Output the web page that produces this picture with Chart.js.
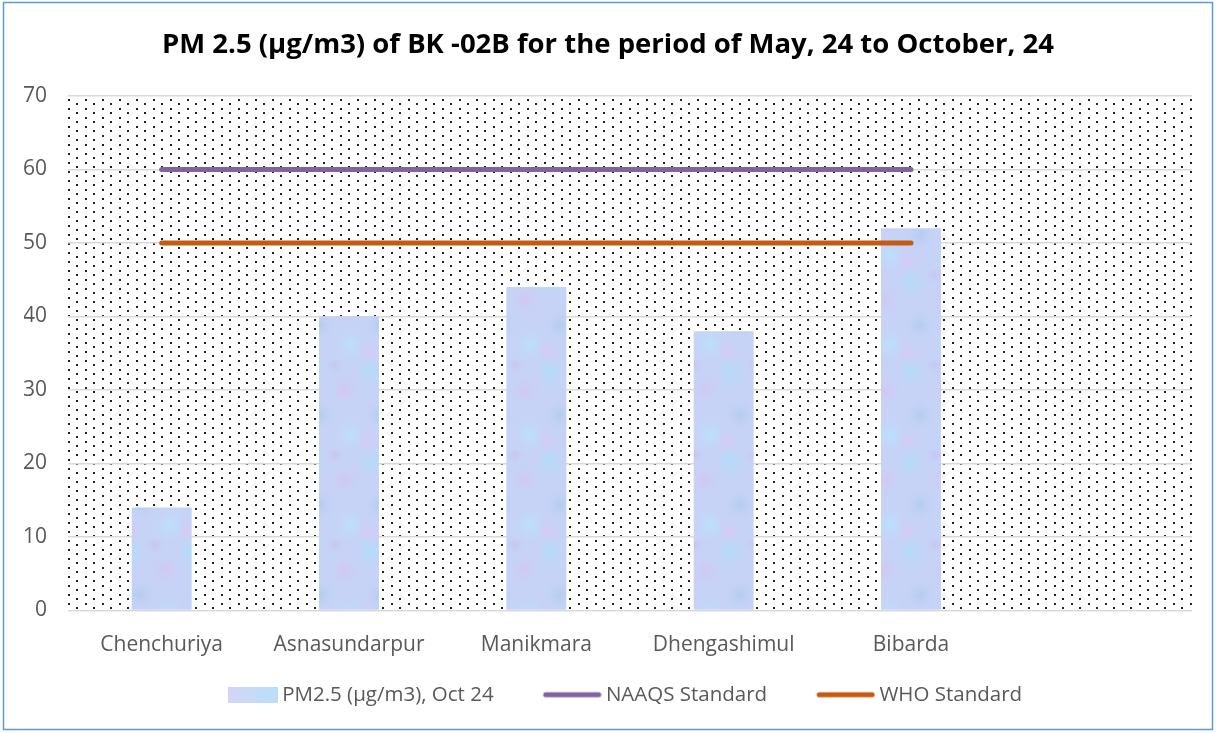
<!DOCTYPE html>
<html>
<head>
<meta charset="utf-8">
<script src="https://cdn.jsdelivr.net/npm/chart.js@4/dist/chart.umd.min.js"></script>
<style>
  html, body { margin: 0; padding: 0; background: #fff; }
  #wrap { width: 1216px; height: 733px; position: relative; }
</style>
</head>
<body>
<div id="wrap"><canvas id="myChart" width="1216" height="733"></canvas></div>
<script>
// data
const categories = ['Chenchuriya', 'Asnasundarpur', 'Manikmara', 'Dhengashimul', 'Bibarda', ''];
const pm25Oct24 = [14, 40, 44, 38, 52, null];
const naaqsStandard = [60, 60, 60, 60, 60, null];
const whoStandard = [50, 50, 50, 50, 50, null];
const yTicks = [0, 10, 20, 30, 40, 50, 60, 70];

const titleText = 'PM 2.5 (\u00b5g/m3) of BK -02B for the period of May, 24 to October, 24';

// soft blue / lavender texture for the bars
function barTexture() {
  const c = document.createElement('canvas');
  c.width = 60; c.height = 90;
  const g = c.getContext('2d');
  g.fillStyle = '#c6d3f6';
  g.fillRect(0, 0, 60, 90);
  const blobs = [
    [10, 12, 22, 'rgba(176,222,252,0.85)'],
    [45, 30, 20, 'rgba(212,196,242,0.75)'],
    [20, 55, 18, 'rgba(170,200,238,0.65)'],
    [50, 75, 22, 'rgba(186,226,252,0.85)'],
    [8, 82, 16, 'rgba(218,200,245,0.75)'],
    [35, 5, 12, 'rgba(200,190,240,0.65)']
  ];
  blobs.forEach(([x, y, r, col]) => {
    const rg = g.createRadialGradient(x, y, 0, x, y, r);
    rg.addColorStop(0, col);
    rg.addColorStop(1, 'rgba(198,211,246,0)');
    g.fillStyle = rg;
    g.fillRect(0, 0, 60, 90);
  });
  return c;
}

// staggered dot pattern behind the plot
function dotTexture() {
  const c = document.createElement('canvas');
  c.width = 17; c.height = 9;
  const g = c.getContext('2d');
  g.fillStyle = '#222';
  g.fillRect(0, 0, 2, 2);
  g.fillRect(8, 4, 2, 2);
  return c;
}

// legend swatches: left part empty so items sit further apart,
// right part runs a little past the box so the text sits close
const swatchW = 78;
const swatchImgW = swatchW + 12;
function legendLine(color) {
  const c = document.createElement('canvas');
  c.width = swatchImgW; c.height = 8;
  const g = c.getContext('2d');
  g.strokeStyle = color;
  g.lineWidth = 5;
  g.lineCap = 'round';
  g.beginPath();
  g.moveTo(swatchImgW - 56, 4); g.lineTo(swatchImgW - 3, 4);
  g.stroke();
  return c;
}

function legendBox() {
  const c = document.createElement('canvas');
  c.width = swatchImgW; c.height = 16;
  const g = c.getContext('2d');
  const lg = g.createLinearGradient(swatchImgW - 50, 0, swatchImgW, 0);
  lg.addColorStop(0, '#d3d6f4');
  lg.addColorStop(1, '#b9e0fb');
  g.fillStyle = lg;
  g.fillRect(swatchImgW - 50, 0, 50, 16);
  return c;
}

const ctx = document.getElementById('myChart').getContext('2d');
const barFill = ctx.createPattern(barTexture(), 'repeat');
const dotFill = ctx.createPattern(dotTexture(), 'repeat');

const plotBackground = {
  id: 'plotBackground',
  beforeDraw(chart) {
    const a = chart.chartArea;
    const c = chart.ctx;
    c.save();
    c.fillStyle = dotFill;
    c.fillRect(a.left, a.top, a.right - a.left, a.bottom - a.top);
    c.restore();
  },
  afterDraw(chart) {
    const c = chart.ctx;
    c.save();
    c.strokeStyle = '#5b9bd5';
    c.lineWidth = 1.5;
    c.strokeRect(3.5, 2.5, 1209, 727);
    c.restore();
  }
};

const legendImages = [legendBox(), legendLine('#8064a2'), legendLine('#c55a11')];

new Chart(ctx, {
  type: 'bar',
  data: {
    labels: categories,
    datasets: [
      {
        label: 'PM2.5 (\u00b5g/m3), Oct 24',
        data: pm25Oct24,
        backgroundColor: barFill,
        borderWidth: 0,
        categoryPercentage: 1,
        barPercentage: 0.32,
        order: 3
      },
      {
        type: 'line',
        label: 'NAAQS Standard',
        data: naaqsStandard,
        borderColor: '#8064a2',
        backgroundColor: '#8064a2',
        borderWidth: 5,
        borderCapStyle: 'round',
        pointRadius: 0,
        order: 1
      },
      {
        type: 'line',
        label: 'WHO Standard',
        data: whoStandard,
        borderColor: '#c55a11',
        backgroundColor: '#c55a11',
        borderWidth: 5,
        borderCapStyle: 'round',
        pointRadius: 0,
        order: 2
      }
    ]
  },
  options: {
    responsive: false,
    animation: false,
    layout: { padding: { left: 24, right: 24, top: 0, bottom: 18 } },
    plugins: {
      title: {
        display: true,
        text: titleText,
        color: '#000',
        font: { family: 'Open Sans', size: 27.5, weight: 'bold' },
        padding: { top: 28.5, bottom: 34.5 }
      },
      legend: {
        position: 'bottom',
        labels: {
          usePointStyle: true,
          pointStyleWidth: swatchW,
          padding: 24,
          color: '#595959',
          font: { family: 'Open Sans', size: 20.5 },
          generateLabels(chart) {
            return chart.data.datasets.map((ds, i) => ({
              text: ds.label,
              pointStyle: legendImages[i],
              fillStyle: 'transparent',
              strokeStyle: 'transparent',
              lineWidth: 0,
              fontColor: '#595959',
              datasetIndex: i,
              hidden: false
            }));
          }
        }
      },
      tooltip: { enabled: false }
    },
    scales: {
      x: {
        afterFit(scale) { scale.height = 50; },
        grid: { display: false, drawTicks: false },
        border: { display: false },
        ticks: { color: '#595959', font: { family: 'Open Sans', size: 21 }, padding: 22, maxRotation: 0 }
      },
      y: {
        min: 0,
        max: 70,
        afterFit(scale) { scale.width = 44; },
        afterBuildTicks(scale) { scale.ticks = yTicks.map(v => ({ value: v })); },
        grid: { color: '#d9d9d9', lineWidth: 1.5, drawTicks: false },
        border: { display: false },
        ticks: { color: '#595959', font: { family: 'Open Sans', size: 21 }, padding: 21 }
      }
    }
  },
  plugins: [plotBackground]
});
</script>
</body>
</html>
